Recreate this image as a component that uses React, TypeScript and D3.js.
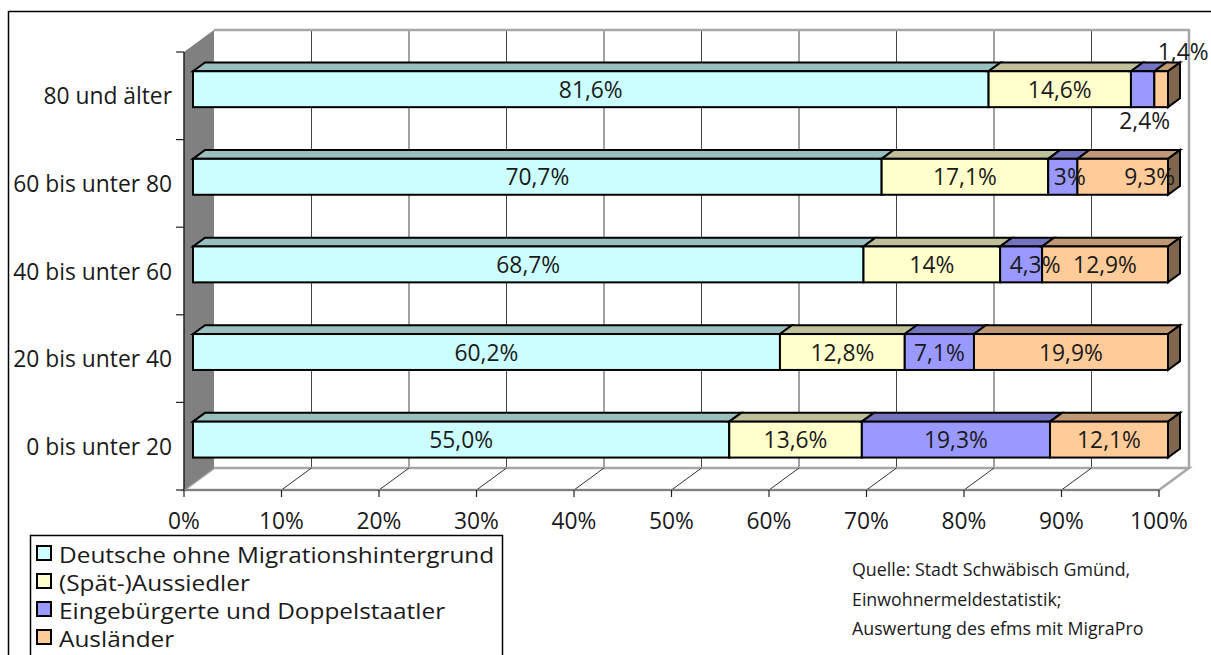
import React from 'react';
import * as d3 from 'd3';

// Age groups, bottom to top
const ageGroups = ['0 bis unter 20', '20 bis unter 40', '40 bis unter 60', '60 bis unter 80', '80 und älter'];

// Share of each population group per age group (percent)
const seriesKeys = ['deutsche', 'aussiedler', 'eingebuergerte', 'auslaender'];
const seriesNames = [
  'Deutsche ohne Migrationshintergrund',
  '(Spät-)Aussiedler',
  'Eingebürgerte und Doppelstaatler',
  'Ausländer',
];
const deutsche = [55.0, 60.2, 68.7, 70.7, 81.6];
const aussiedler = [13.6, 12.8, 14.0, 17.1, 14.6];
const eingebuergerte = [19.3, 7.1, 4.3, 3.0, 2.4];
const auslaender = [12.1, 19.9, 12.9, 9.3, 1.4];

// Decimal places shown in each value label
const deutscheDecimals = [1, 1, 1, 1, 1];
const aussiedlerDecimals = [1, 1, 0, 1, 1];
const eingebuergerteDecimals = [1, 1, 1, 0, 1];
const auslaenderDecimals = [1, 1, 1, 1, 1];

const sourceLines = [
  'Quelle: Stadt Schwäbisch Gmünd,',
  'Einwohnermeldestatistik;',
  'Auswertung des efms mit MigraPro',
];

const frontColors = ['#CCFFFF', '#FFFFCC', '#9999FF', '#FFCC99'];

// Manually placed value labels (offset from the bar face centre)
const labelNudge: Record<string, [number, number]> = {
  '80 und älter|eingebuergerte': [2, 31],
  '80 und älter|auslaender': [22, -38],
  '60 bis unter 80|eingebuergerte': [7, 0],
  '60 bis unter 80|auslaender': [27, 0],
  '40 bis unter 60|eingebuergerte': [14, 0],
};

const FONT = '"Open Sans", "DejaVu Sans", sans-serif';
const TEXT = '#1a1a1a';
const AXIS_FS = 22.8;
const LEGEND_FS = 20.5;
const LEGEND_STRETCH = 1.19;

function shade(c: string, k: number) {
  const col = d3.rgb(c);
  return d3.rgb(col.r * k, col.g * k, col.b * k).formatHex();
}

export default function App() {
  const W = 1211;
  const H = 655;

  // front plane of the 3D plot box
  const FX0 = 184, FX1 = 1159, FY0 = 52, FY1 = 490;
  const DX = 30, DY = -22; // depth of the box
  const z0 = 0.3, z1 = 0.7; // bar depth range inside the box

  const x = d3.scaleLinear().domain([0, 1]).range([FX0, FX1]);
  const y = d3.scaleBand<string>().domain([...ageGroups].reverse()).range([FY0, FY1]).padding(0);
  const bw = y.bandwidth();
  const barH = bw * 0.41;

  const valuesBySeries = [deutsche, aussiedler, eingebuergerte, auslaender];
  const decimalsBySeries = [deutscheDecimals, aussiedlerDecimals, eingebuergerteDecimals, auslaenderDecimals];

  const rows = ageGroups.map((g, i) => {
    const r: any = { group: g };
    seriesKeys.forEach((k, s) => (r[k] = valuesBySeries[s][i]));
    return r;
  });
  const stacked = d3.stack<any>().keys(seriesKeys).offset(d3.stackOffsetExpand)(rows);

  const ticks = x.ticks(10);
  const pct = d3.format('.0%');

  const ox = DX * z0, oy = DY * z0;
  const ddx = DX * (z1 - z0), ddy = DY * (z1 - z0);

  const fmt = (v: number, d: number) => d3.format(`.${d}f`)(v).replace('.', ',') + '%';

  const boundaries = d3.range(ageGroups.length + 1).map((i) => FY0 + i * y.step());

  return (
    <svg width={W} height={H} style={{ position: 'absolute', left: 0, top: 0, background: '#fff' }} fontFamily={FONT}>
      {/* outer frame */}
      <rect x={8.5} y={11.5} width={W + 20} height={H + 20} fill="#fff" stroke="#000" strokeWidth={1.5} />

      {/* back wall */}
      <rect x={FX0 + DX} y={FY0 + DY} width={FX1 - FX0} height={FY1 - FY0} fill="#fff" />
      {ticks.slice(1, -1).map((t) => (
        <line key={'g' + t} x1={x(t) + DX} x2={x(t) + DX} y1={FY0 + DY} y2={FY1 + DY} stroke="#444" strokeWidth={1} />
      ))}
      <polyline
        points={`${FX0 + DX},${FY0 + DY} ${FX1 + DX},${FY0 + DY} ${FX1 + DX},${FY1 + DY}`}
        fill="none"
        stroke="#a6a6a6"
        strokeWidth={2.5}
      />

      {/* floor */}
      <polygon
        points={`${FX0},${FY1} ${FX0 + DX},${FY1 + DY} ${FX1 + DX},${FY1 + DY} ${FX1},${FY1}`}
        fill="#fff"
        stroke="#a6a6a6"
        strokeWidth={2.5}
      />
      {ticks.slice(1, -1).map((t) => (
        <line key={'f' + t} x1={x(t)} y1={FY1} x2={x(t) + DX} y2={FY1 + DY} stroke="#333" strokeWidth={1} />
      ))}

      {/* side wall */}
      <polygon
        points={`${FX0},${FY0} ${FX0 + DX},${FY0 + DY} ${FX0 + DX},${FY1 + DY} ${FX0},${FY1}`}
        fill="#808080"
      />

      {/* category axis */}
      <line x1={FX0} x2={FX0} y1={FY0} y2={FY1} stroke="#222" strokeWidth={1.5} />
      {boundaries.map((b, i) => (
        <line key={'yt' + i} x1={FX0 - 8} x2={FX0} y1={b} y2={b} stroke="#222" strokeWidth={1.2} />
      ))}
      {ageGroups.map((g) => (
        <text
          key={'yl' + g}
          x={172}
          y={(y(g) as number) + bw / 2}
          textAnchor="end"
          dominantBaseline="central"
          fontSize={AXIS_FS}
          fill={TEXT}
        >
          {g}
        </text>
      ))}

      {/* value axis */}
      <line x1={FX0} x2={FX1} y1={FY1} y2={FY1} stroke="#808080" strokeWidth={2} />
      {ticks.map((t) => (
        <g key={'xt' + t}>
          <line x1={x(t)} x2={x(t)} y1={FY1} y2={FY1 + 7} stroke="#222" strokeWidth={1.2} />
          <text x={x(t)} y={529} textAnchor="middle" fontSize={AXIS_FS} fill={TEXT}>
            {pct(t)}
          </text>
        </g>
      ))}

      {/* stacked 3D bars */}
      {ageGroups.map((g, gi) => {
        const top = (y(g) as number) + bw / 2 - barH / 2 + oy;
        return (
          <g key={'bar' + g}>
            {stacked.map((layer, s) => {
              const d = layer[gi];
              const xa = x(d[0]) + ox;
              const xb = x(d[1]) + ox;
              const col = frontColors[s];
              const isLast = s === stacked.length - 1;
              return (
                <g key={layer.key}>
                  <polygon
                    points={`${xa},${top} ${xa + ddx},${top + ddy} ${xb + ddx},${top + ddy} ${xb},${top}`}
                    fill={shade(col, 0.75)}
                    stroke="#000"
                    strokeWidth={2}
                    strokeLinejoin="miter"
                  />
                  {isLast && (
                    <polygon
                      points={`${xb},${top} ${xb + ddx},${top + ddy} ${xb + ddx},${top + barH + ddy} ${xb},${top + barH}`}
                      fill={shade(col, 0.5)}
                      stroke="#000"
                      strokeWidth={2}
                    />
                  )}
                  <rect x={xa} y={top} width={xb - xa} height={barH} fill={col} stroke="#000" strokeWidth={2} />
                </g>
              );
            })}
          </g>
        );
      })}

      {/* value labels */}
      {ageGroups.map((g, gi) => {
        const top = (y(g) as number) + bw / 2 - barH / 2 + oy;
        return stacked.map((layer, s) => {
          const d = layer[gi];
          const cx = (x(d[0]) + x(d[1])) / 2 + ox;
          const nudge = labelNudge[`${g}|${layer.key}`] || [0, 0];
          const v = valuesBySeries[s][gi];
          return (
            <text
              key={'vl' + g + s}
              x={cx + nudge[0]}
              y={top + barH / 2 + nudge[1]}
              textAnchor="middle"
              dominantBaseline="central"
              fontSize={AXIS_FS}
              fill={TEXT}
            >
              {fmt(v, decimalsBySeries[s][gi])}
            </text>
          );
        });
      })}

      {/* legend */}
      <rect x={30.5} y={535.5} width={472} height={200} fill="#fff" stroke="#000" strokeWidth={1.5} />
      {seriesNames.map((n, i) => {
        const cy = 553 + i * 28;
        return (
          <g key={'lg' + i}>
            <rect x={37} y={cy - 7} width={14} height={14} fill={frontColors[i]} stroke="#000" strokeWidth={2} />
            <text
              transform={`translate(59, ${cy + 1}) scale(${LEGEND_STRETCH}, 1.08)`}
              dominantBaseline="central"
              fontSize={LEGEND_FS}
              fill={TEXT}
            >
              {n}
            </text>
          </g>
        );
      })}

      {/* source note */}
      {sourceLines.map((l, i) => (
        <text key={'src' + i} x={852} y={576 + i * 29.5} fontSize={17.8} fill={TEXT}>
          {l}
        </text>
      ))}
    </svg>
  );
}
